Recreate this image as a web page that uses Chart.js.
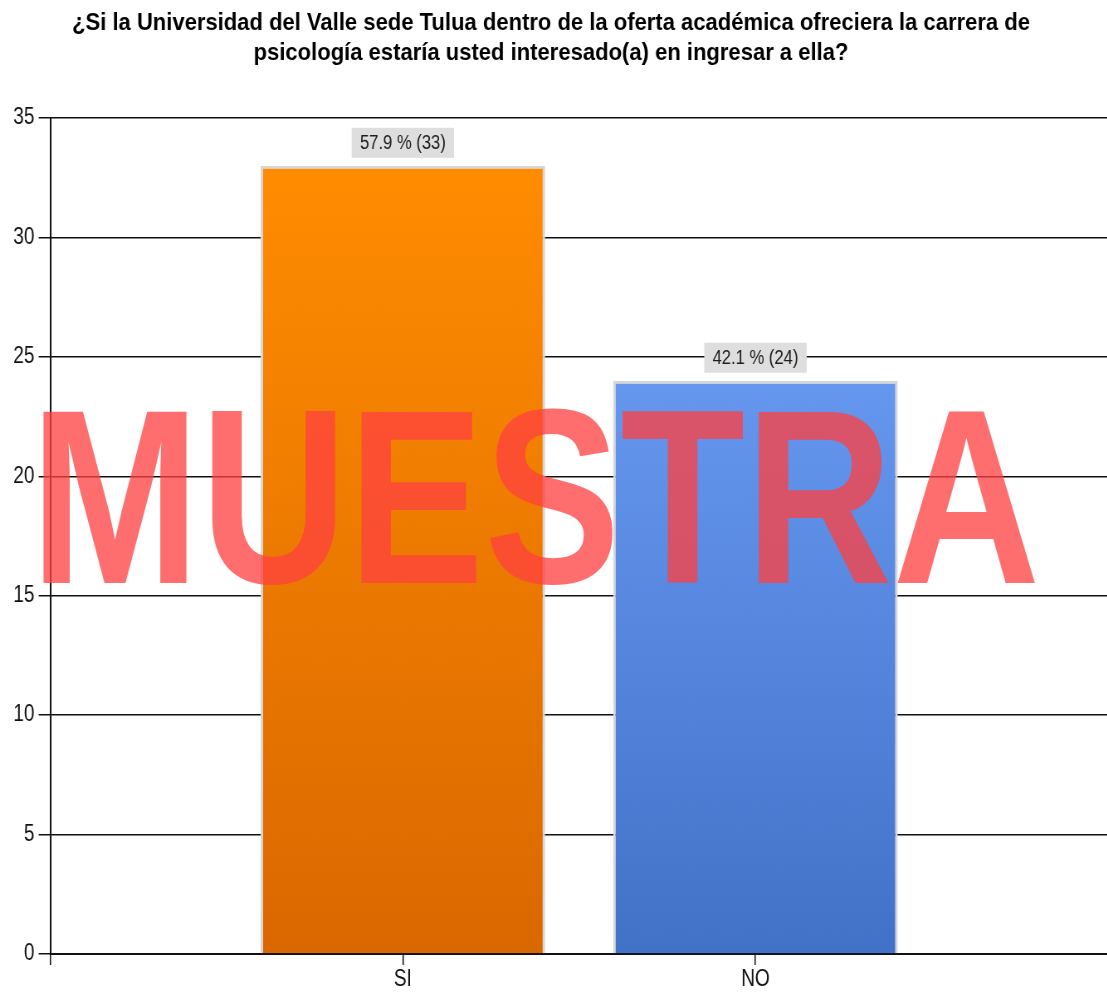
<!DOCTYPE html>
<html><head><meta charset="utf-8">
<script src="https://cdn.jsdelivr.net/npm/chart.js@4.4.1/dist/chart.umd.min.js"></script>
<style>
html,body{margin:0;padding:0;background:#fff;overflow:hidden;width:1107px;height:994px}
#wrap{position:absolute;left:0;top:0;width:1338px;height:994px;transform:scaleX(0.83);transform-origin:0 0}
</style></head><body>
<div id="wrap"><canvas id="c" width="1338" height="994"></canvas></div>
<script>
const titleLines = ['¿Si la Universidad del Valle sede Tulua dentro de la oferta académica ofreciera la carrera de',
                    'psicología estaría usted interesado(a) en ingresar a ella?'];
const categories = ['SI', 'NO'];
const counts = [33, 24];
const percents = [57.9, 42.1];
const yMin = 0, yMax = 35, yStep = 5;
const watermarkText = 'MUESTRA';

const SX = 0.83; // horizontal squeeze of the reference rendering
const FONT = '"Liberation Sans", Arial, sans-serif';
const topColors = ['#FF8C00', '#6697EE'];
const bottomColors = ['#DA6800', '#4271C8'];

function barGradient(ctx) {
  const chart = ctx.chart;
  if (!chart.chartArea || ctx.dataIndex === undefined) return topColors[ctx.dataIndex || 0];
  const ys = chart.scales.y;
  const top = ys.getPixelForValue(counts[ctx.dataIndex]);
  const bot = ys.getPixelForValue(0);
  const g = chart.ctx.createLinearGradient(0, top, 0, bot);
  g.addColorStop(0, topColors[ctx.dataIndex]);
  g.addColorStop(1, bottomColors[ctx.dataIndex]);
  return g;
}

const titlePlugin = {
  id: 'titlePlugin',
  afterDraw(chart) {
    const ctx = chart.ctx;
    ctx.save();
    ctx.font = 'bold 24px ' + FONT;
    const w1 = ctx.measureText(titleLines[0]).width;
    const k = (958 / SX) / w1;
    const cx = 551 / SX;
    ctx.fillStyle = '#000';
    ctx.textAlign = 'center';
    ctx.textBaseline = 'alphabetic';
    titleLines.forEach((line, i) => {
      ctx.save();
      ctx.translate(cx, 30 + i * 30);
      ctx.scale(k, 1);
      ctx.fillText(line, 0, 0);
      ctx.restore();
    });
    ctx.restore();
  }
};

const barLabels = {
  id: 'barLabels',
  afterDatasetsDraw(chart) {
    const ctx = chart.ctx;
    const meta = chart.getDatasetMeta(0);
    ctx.save();
    ctx.font = '20px ' + FONT;
    meta.data.forEach((bar, i) => {
      const text = percents[i].toFixed(1) + ' % (' + counts[i] + ')';
      const w = ctx.measureText(text).width;
      const bw = w + 20, bh = 30;
      const bottom = bar.y - 8;
      ctx.fillStyle = '#dedede';
      ctx.fillRect(bar.x - bw / 2, bottom - bh, bw, bh);
      ctx.fillStyle = '#1e1e1e';
      ctx.textAlign = 'center';
      ctx.textBaseline = 'middle';
      ctx.fillText(text, bar.x, bottom - bh / 2 + 1);
    });
    ctx.restore();
  }
};

const watermark = {
  id: 'watermark',
  afterDraw(chart) {
    const ctx = chart.ctx;
    ctx.save();
    ctx.font = 'bold 100px ' + FONT;
    const capAsc = ctx.measureText('M').actualBoundingBoxAscent;
    const size = 100 * 174 / capAsc;
    ctx.font = 'bold ' + size + 'px ' + FONT;
    const m = ctx.measureText(watermarkText);
    const inkW = m.actualBoundingBoxLeft + m.actualBoundingBoxRight;
    const targetW = 992 / SX;
    const sx = targetW / inkW;
    ctx.translate(43 / SX, 583);
    ctx.scale(sx, 1);
    ctx.fillStyle = 'rgba(255,64,64,0.76)';
    ctx.textAlign = 'left';
    ctx.textBaseline = 'alphabetic';
    ctx.fillText(watermarkText, m.actualBoundingBoxLeft, 0);
    ctx.restore();
  }
};

new Chart(document.getElementById('c'), {
  type: 'bar',
  data: {
    datasets: [{
      data: counts.map((v, i) => ({ x: i + 1, y: v })),
      backgroundColor: barGradient,
      borderColor: '#d6d6d6',
      borderWidth: 3,
      barPercentage: 1,
      categoryPercentage: 0.807
    }]
  },
  options: {
    responsive: false,
    animation: false,
    devicePixelRatio: 1,
    layout: { padding: { left: 11, right: 0, top: 118, bottom: 0 } },
    plugins: {
      legend: { display: false },
      tooltip: { enabled: false },
      title: { display: false }
    },
    scales: {
      x: {
        type: 'linear',
        offset: false,
        min: 0, max: categories.length + 1,
        z: 1,
        ticks: {
          stepSize: 1,
          autoSkip: false,
          maxRotation: 0,
          padding: 3,
          color: '#111',
          font: { family: FONT, size: 23, lineHeight: 1.0 },
          callback: v => (v >= 1 && v <= categories.length) ? categories[v - 1] : ''
        },
        grid: { offset: false, drawOnChartArea: false, drawTicks: true, tickLength: 11, color: '#111', lineWidth: 1.5 },
        border: { display: true, color: '#111', width: 2 }
      },
      y: {
        min: yMin, max: yMax,
        ticks: { stepSize: yStep, padding: 5, color: '#111', font: { family: FONT, size: 23 } },
        grid: { color: '#111', lineWidth: 1.5, tickLength: 14 },
        border: { display: true, color: '#111', width: 2 }
      }
    }
  },
  plugins: [titlePlugin, barLabels, watermark]
});
</script>
</body></html>
